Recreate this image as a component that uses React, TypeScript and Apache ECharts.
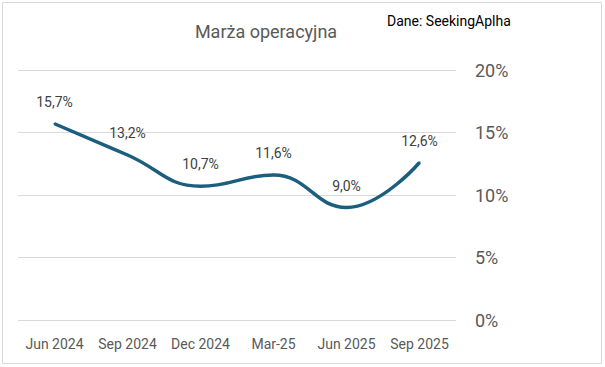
import React, { useEffect, useRef } from "react";
import * as echarts from "echarts";

const categories = ["Jun 2024", "Sep 2024", "Dec 2024", "Mar-25", "Jun 2025", "Sep 2025"];
const margins = [15.7, 13.2, 10.7, 11.6, 9.0, 12.6];
const yTicks = [0, 5, 10, 15, 20];

export default function App() {
  const ref = useRef<HTMLDivElement>(null);
  useEffect(() => {
    if (!ref.current) return;
    const chart = echarts.init(ref.current, undefined, { renderer: "svg" });
    const font = "Roboto, 'Noto Sans', sans-serif";
    chart.setOption({
      animation: false,
      backgroundColor: "#ffffff",
      textStyle: { fontFamily: font },
      title: {
        text: "Marża operacyjna",
        left: 261,
        top: 17,
        textAlign: "center",
        textStyle: { fontSize: 18, fontWeight: "normal", color: "#595959", fontFamily: font },
      },
      graphic: [
        {
          type: "rect",
          shape: { x: 2.5, y: 2.5, width: 599, height: 361 },
          style: { fill: "none", stroke: "#d9d9d9", lineWidth: 1 },
          z: -1,
        },
        {
          type: "text",
          left: 387,
          top: 14,
          style: { text: "Dane: SeekingAplha", fontSize: 14, fill: "#000000", fontFamily: font },
        },
      ],
      grid: { left: 18, right: 149, top: 70, bottom: 47 },
      xAxis: {
        type: "category",
        data: categories,
        boundaryGap: true,
        axisLine: { show: false },
        axisTick: { show: false },
        axisLabel: { color: "#595959", fontSize: 14, margin: 17, interval: 0, fontFamily: font },
      },
      yAxis: {
        type: "value",
        position: "right",
        min: yTicks[0],
        max: yTicks[yTicks.length - 1],
        interval: 5,
        axisLine: { show: false },
        axisTick: { show: false },
        splitLine: { lineStyle: { color: "#d9d9d9", width: 1.2 } },
        axisLabel: {
          color: "#595959",
          fontSize: 18,
          margin: 19,
          fontFamily: font,
          formatter: (v: number) => v + "%",
        },
      },
      series: [
        {
          type: "line",
          data: margins,
          smooth: 0.45,
          symbol: "circle",
          symbolSize: 2,
          showSymbol: true,
          showAllSymbol: true,
          itemStyle: { color: "#1B5E7E" },
          lineStyle: { color: "#1B5E7E", width: 3.5 },
          label: {
            show: true,
            position: "top",
            distance: 14,
            color: "#404040",
            fontSize: 14,
            fontFamily: font,
            formatter: (p: any) => p.value.toFixed(1).replace(".", ",") + "%",
          },
        },
      ],
    });
    return () => chart.dispose();
  }, []);
  return (
    <div
      ref={ref}
      style={{ position: "fixed", left: 0, top: 0, width: 605, height: 367 }}
    />
  );
}
